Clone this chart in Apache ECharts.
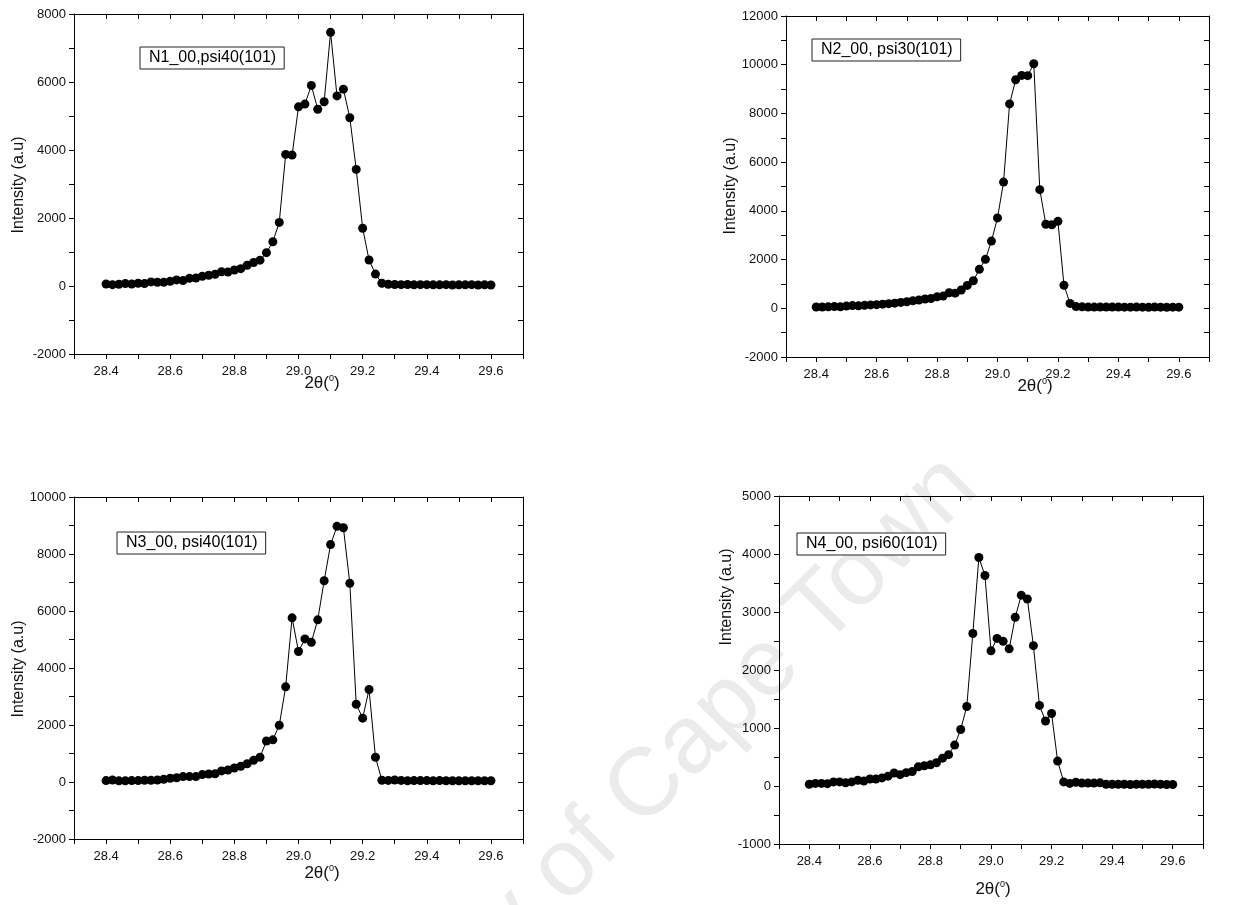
<!DOCTYPE html>
<html>
<head>
<meta charset="utf-8">
<script src="https://cdn.jsdelivr.net/npm/echarts@6/dist/echarts.min.js"></script>
<style>
  html, body { margin: 0; padding: 0; background: #fff; }
  #chart { width: 1257px; height: 905px; }
</style>
</head>
<body>
<div id="chart"></div>
<script>
// 2theta positions (degrees)
const twoTheta = [
  28.40, 28.42, 28.44, 28.46, 28.48, 28.50, 28.52, 28.54, 28.56, 28.58,
  28.60, 28.62, 28.64, 28.66, 28.68, 28.70, 28.72, 28.74, 28.76, 28.78,
  28.80, 28.82, 28.84, 28.86, 28.88, 28.90, 28.92, 28.94, 28.96, 28.98,
  29.00, 29.02, 29.04, 29.06, 29.08, 29.10, 29.12, 29.14, 29.16, 29.18,
  29.20, 29.22, 29.24, 29.26, 29.28, 29.30, 29.32, 29.34, 29.36, 29.38,
  29.40, 29.42, 29.44, 29.46, 29.48, 29.50, 29.52, 29.54, 29.56, 29.58,
  29.60
]

const seriesNames = ['N1_00,psi40(101)', 'N2_00, psi30(101)', 'N3_00, psi40(101)', 'N4_00, psi60(101)']

const n1 = [
  60, 40, 50, 70, 60, 80, 70, 120, 110, 110,
  140, 180, 160, 225, 235, 285, 315, 345, 420, 410,
  470, 510, 610, 690, 760, 980, 1300, 1870, 3870, 3850,
  5270, 5350, 5900, 5200, 5420, 7460, 5590, 5790, 4950, 3430,
  1700, 765, 350, 80, 50, 45, 40, 45, 35, 40,
  40, 35, 35, 40, 30, 35, 35, 40, 30, 35,
  30
]
const n2 = [
  55, 55, 60, 70, 65, 90, 110, 100, 120, 140,
  150, 170, 190, 210, 240, 270, 310, 340, 380, 400,
  470, 500, 640, 620, 750, 940, 1130, 1600, 2010, 2760,
  3710, 5180, 8390, 9380, 9560, 9550, 10040, 4870, 3450, 3430,
  3570, 945, 200, 70, 60, 50, 50, 55, 50, 55,
  50, 45, 45, 50, 45, 40, 55, 45, 40, 45,
  45
]
const n3 = [
  50, 70, 40, 40, 50, 50, 60, 60, 70, 95,
  130, 150, 190, 190, 190, 260, 280, 290, 390, 420,
  490, 550, 640, 760, 870, 1440, 1480, 1990, 3340, 5760,
  4580, 5020, 4900, 5690, 7060, 8330, 8970, 8920, 6970, 2730,
  2240, 3245, 870, 60, 55, 70, 55, 45, 50, 50,
  50, 45, 50, 45, 45, 40, 45, 40, 45, 40,
  45
]
const n4 = [
  30, 45, 45, 40, 70, 70, 55, 70, 100, 85,
  120, 120, 140, 170, 225, 195, 230, 250, 330, 350,
  365, 400, 480, 540, 705, 975, 1370, 2630, 3940, 3630,
  2330, 2545, 2495, 2365, 2910, 3290, 3225, 2420, 1390, 1120,
  1250, 430, 70, 45, 65, 50, 50, 50, 55, 30,
  30, 30, 30, 25, 30, 30, 30, 35, 30, 25,
  25
]

// y axis ranges: [min, max, tick step, label step]
const yRanges = [
  [-2000, 8000, 1000, 2000],
  [-2000, 12000, 1000, 2000],
  [-2000, 10000, 1000, 2000],
  [-1000, 5000, 500, 1000]
]
const values = [n1, n2, n3, n4]

// panel layout (pixels)
const panels = [
  { grid: [74, 14, 449, 340], legend: [140, 47], yName: [19, 185], xName: [322, 383] },
  { grid: [786, 16, 423, 341], legend: [812, 39], yName: [731, 186], xName: [1035, 386] },
  { grid: [74, 497, 449, 342], legend: [117, 532], yName: [19, 669], xName: [322, 873] },
  { grid: [779, 496, 424, 348], legend: [797, 533], yName: [727, 597], xName: [993, 889] }
]

const font = 'Liberation Sans, Arial, Helvetica, sans-serif'
const black = '#000'

const grids = []
const xAxes = []
const yAxes = []
const series = []
const legends = []
const graphics = []

// watermark
graphics.push({
  type: 'text',
  x: 996,
  y: 506,
  rotation: Math.PI / 4,
  z: -10,
  silent: true,
  style: {
    text: 'University of Cape Town',
    fontSize: 96,
    fontFamily: font,
    fill: '#ebebeb',
    align: 'right',
    verticalAlign: 'bottom'
  }
})

panels.forEach((p, i) => {
  const [left, top, width, height] = p.grid
  const [yMin, yMax, yStep, yLabelStep] = yRanges[i]
  grids.push({ left, top, width, height, containLabel: false, show: false })

  const xBase = {
    type: 'value',
    gridIndex: i,
    min: 28.3,
    max: 29.7,
    interval: 0.1,
    splitLine: { show: false },
    axisLine: { show: true, onZero: false, lineStyle: { color: black, width: 1 } }
  }
  xAxes.push({
    ...xBase,
    position: 'bottom',
    axisTick: { show: true, inside: false, length: 5, lineStyle: { color: black } },
    axisLabel: {
      show: true,
      margin: 11,
      fontSize: 13,
      fontFamily: font,
      color: '#111',
      formatter: (v) => (Math.round(v * 10) % 2 === 0 ? v.toFixed(1) : '')
    }
  })
  xAxes.push({
    ...xBase,
    position: 'top',
    axisTick: { show: true, inside: true, length: 5, lineStyle: { color: black } },
    axisLabel: { show: false }
  })

  const yBase = {
    type: 'value',
    gridIndex: i,
    min: yMin,
    max: yMax,
    interval: yStep,
    splitLine: { show: false },
    axisLine: { show: true, onZero: false, lineStyle: { color: black, width: 1 } }
  }
  yAxes.push({
    ...yBase,
    position: 'left',
    axisTick: { show: true, inside: false, length: 5, lineStyle: { color: black } },
    axisLabel: {
      show: true,
      margin: 8,
      fontSize: 13,
      fontFamily: font,
      color: '#111',
      formatter: (v) => (Math.round(v) % yLabelStep === 0 ? String(v) : '')
    }
  })
  yAxes.push({
    ...yBase,
    position: 'right',
    axisTick: { show: true, inside: true, length: 5, lineStyle: { color: black } },
    axisLabel: { show: false }
  })

  series.push({
    name: seriesNames[i],
    type: 'line',
    xAxisIndex: i * 2,
    yAxisIndex: i * 2,
    data: twoTheta.map((x, j) => [x, values[i][j]]),
    symbol: 'circle',
    symbolSize: 9,
    showAllSymbol: true,
    itemStyle: { color: black },
    lineStyle: { color: black, width: 1 },
    emphasis: { disabled: true },
    z: 5
  })

  legends.push({
    data: [seriesNames[i]],
    left: p.legend[0],
    top: p.legend[1],
    orient: 'horizontal',
    icon: 'none',
    itemWidth: 0,
    itemHeight: 0,
    selectedMode: false,
    backgroundColor: '#fff',
    borderColor: '#222',
    borderWidth: 1,
    padding: [3, 8, 3, 4],
    textStyle: { fontSize: 16, fontFamily: font, color: black }
  })

  graphics.push({
    type: 'text',
    x: p.yName[0],
    y: p.yName[1],
    rotation: Math.PI / 2,
    silent: true,
    style: {
      text: 'Intensity (a.u)',
      fontSize: 16,
      fontFamily: font,
      fill: '#111',
      align: 'center',
      verticalAlign: 'middle'
    }
  })
  graphics.push({
    type: 'text',
    x: p.xName[0],
    y: p.xName[1],
    silent: true,
    style: {
      text: '2θ({s|0})',
      fontSize: 17,
      fontFamily: font,
      fill: '#111',
      align: 'center',
      verticalAlign: 'middle',
      rich: {
        s: { fontSize: 9, fontFamily: font, fill: '#111', verticalAlign: 'top' }
      }
    }
  })
})

const chart = echarts.init(document.getElementById('chart'), null, { renderer: 'canvas' })
chart.setOption({
  animation: false,
  backgroundColor: '#fff',
  textStyle: { fontFamily: font },
  grid: grids,
  xAxis: xAxes,
  yAxis: yAxes,
  legend: legends,
  graphic: graphics,
  series
})
</script>
</body>
</html>
